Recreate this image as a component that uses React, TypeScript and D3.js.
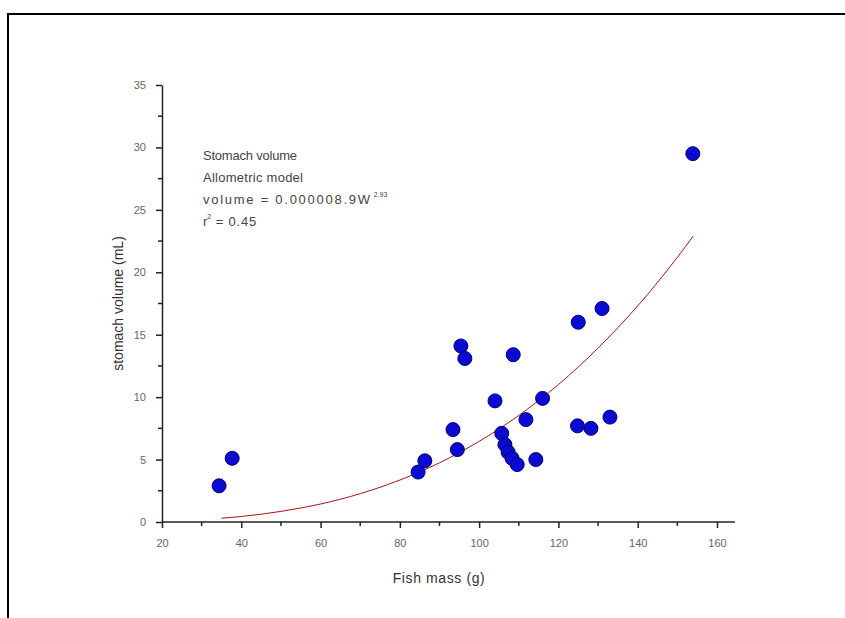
import React, { useEffect, useRef } from "react";
import * as d3 from "d3";

// Fish mass (g) and stomach volume (mL)
const fishMass = [34.4, 37.7, 84.6, 86.3, 93.4, 94.5, 95.4, 96.4, 104.0, 108.6, 105.7, 106.5, 107.3, 108.3, 109.6, 111.8, 116.0, 114.3, 125.0, 124.8, 128.2, 133.0, 131.0, 153.9];
const stomachVolume = [2.9, 5.1, 4.0, 4.9, 7.4, 5.8, 14.1, 13.1, 9.7, 13.4, 7.1, 6.2, 5.6, 5.1, 4.6, 8.2, 9.9, 5.0, 16.0, 7.7, 7.5, 8.4, 17.1, 29.5];

// Allometric fit curve as drawn
const fitMass = [35, 40, 50, 60, 70, 80, 90, 100, 110, 120, 130, 140, 150, 154];
const fitVolume = [0.3, 0.44, 0.85, 1.44, 2.27, 3.36, 4.74, 6.46, 8.53, 11.01, 13.93, 17.31, 21.2, 22.9];

const xTicks = [20, 40, 60, 80, 100, 120, 140, 160];
const yTicks = [0, 5, 10, 15, 20, 25, 30, 35];

export default function App({
  width = 845,
  height = 618,
  marginTop = 85,
  marginRight = 110,
  marginBottom = 96,
  marginLeft = 162
}) {
  const svgRef = useRef(null);

  useEffect(() => {
    const svg = d3.select(svgRef.current);
    svg.selectAll("*").remove();

    const x = d3.scaleLinear().domain([20, 160]).range([marginLeft, 717]);
    const y = d3.scaleLinear().domain([0, 35]).range([height - marginBottom, marginTop]);
    const font = "Liberation Sans, Arial, sans-serif";

    svg.append("rect").attr("width", width).attr("height", height).attr("fill", "white");

    // outer frame (runs off the right and bottom)
    svg.append("rect")
      .attr("x", 8).attr("y", 14)
      .attr("width", 860).attr("height", 640)
      .attr("fill", "none").attr("stroke", "black").attr("stroke-width", 2);

    // fitted curve
    const line = d3.line<number>()
      .x((d, i) => x(fitMass[i]))
      .y(d => y(d))
      .curve(d3.curveMonotoneX);
    svg.append("path")
      .datum(fitVolume)
      .attr("fill", "none")
      .attr("stroke", "#a3151a")
      .attr("stroke-width", 1)
      .attr("d", line);

    // points
    svg.append("g")
      .selectAll("circle")
      .data(fishMass)
      .join("circle")
      .attr("cx", d => x(d))
      .attr("cy", (d, i) => y(stomachVolume[i]))
      .attr("r", 7)
      .attr("fill", "#0a0ad2")
      .attr("stroke", "#000070")
      .attr("stroke-width", 1);

    // x axis
    const gx = svg.append("g")
      .attr("transform", `translate(0, ${y(0)})`)
      .call(d3.axisBottom(x).tickValues(xTicks).tickSize(6).tickSizeOuter(0).tickPadding(11));
    gx.append("g")
      .selectAll("line")
      .data(d3.range(30, 160, 20))
      .join("line")
      .attr("x1", d => x(d)).attr("x2", d => x(d))
      .attr("y1", 0).attr("y2", 4)
      .attr("stroke", "#222").attr("stroke-width", 1.5);
    gx.select(".domain").attr("d", `M${x(20)},0H${x(164.5)}`);

    // y axis
    const gy = svg.append("g")
      .attr("transform", `translate(${x(20)}, 0)`)
      .call(d3.axisLeft(y).tickValues(yTicks).tickSize(6).tickSizeOuter(0).tickPadding(10));
    gy.append("g")
      .selectAll("line")
      .data(d3.range(2.5, 35, 5))
      .join("line")
      .attr("x1", 0).attr("x2", -4)
      .attr("y1", d => y(d)).attr("y2", d => y(d))
      .attr("stroke", "#222").attr("stroke-width", 1.5);

    [gx, gy].forEach(g => {
      g.select(".domain").attr("stroke", "#222").attr("stroke-width", 1.5);
      g.selectAll(".tick line").attr("stroke", "#222").attr("stroke-width", 1.5);
      g.selectAll(".tick text")
        .attr("fill", "#666")
        .attr("font-size", 11)
        .attr("font-family", font);
    });

    // axis titles
    svg.append("text")
      .attr("x", 439).attr("y", 583)
      .attr("text-anchor", "middle")
      .attr("font-family", font).attr("font-size", 14)
      .attr("letter-spacing", 0.6)
      .attr("fill", "#333")
      .text("Fish mass (g)");
    svg.append("text")
      .attr("transform", `translate(123, ${y(17.5)}) rotate(-90)`)
      .attr("text-anchor", "middle")
      .attr("font-family", font).attr("font-size", 14)
      .attr("fill", "#333")
      .text("stomach volume (mL)");

    // annotation
    const note = svg.append("g")
      .attr("font-family", font).attr("font-size", 13)
      .attr("fill", "#444");
    note.append("text").attr("x", 203).attr("y", 160)
      .attr("textLength", 94).attr("lengthAdjust", "spacing").text("Stomach volume");
    note.append("text").attr("x", 203).attr("y", 182)
      .attr("textLength", 100).attr("lengthAdjust", "spacing").text("Allometric model");
    const eq = note.append("text").attr("x", 203).attr("y", 204);
    eq.append("tspan").attr("textLength", 167).attr("lengthAdjust", "spacing").text("volume = 0.000008.9W");
    eq.append("tspan").attr("dy", -7).attr("dx", 2).attr("font-size", 7).text("2.93");
    const r2 = note.append("text").attr("x", 203).attr("y", 226);
    r2.append("tspan").text("r");
    r2.append("tspan").attr("dy", -7).attr("font-size", 7).text("2");
    r2.append("tspan").attr("dy", 7).attr("letter-spacing", 0.8).text(" = 0.45");
  }, [width, height, marginTop, marginRight, marginBottom, marginLeft]);

  return (
    <svg
      ref={svgRef}
      width={width}
      height={height}
      style={{ position: "absolute", left: 0, top: 0, display: "block" }}
    />
  );
}
